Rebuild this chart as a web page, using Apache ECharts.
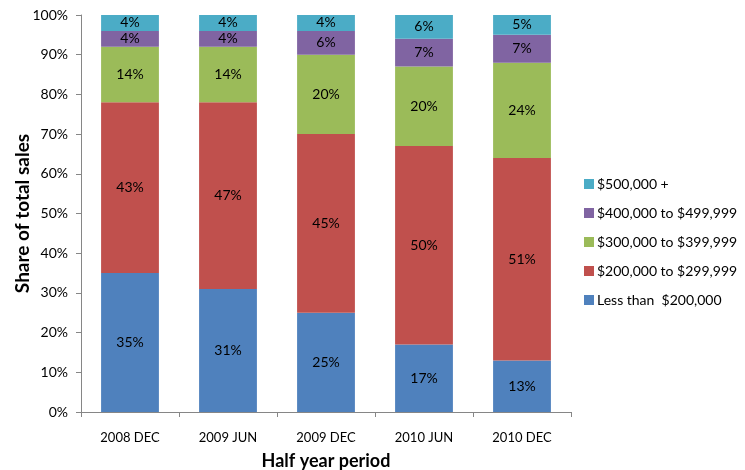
<!DOCTYPE html>
<html><head><meta charset="utf-8">
<script src="https://cdn.jsdelivr.net/npm/echarts@6/dist/echarts.min.js"></script>
<style>html,body{margin:0;padding:0;background:#fff}#c{width:745px;height:470px}</style>
</head><body><div id="c"></div>
<script>
const categories = ['2008 DEC','2009 JUN','2009 DEC','2010 JUN','2010 DEC'];
const lessThan200 = [35,31,25,17,13];
const from200to299 = [43,47,45,50,51];
const from300to399 = [14,14,20,20,24];
const from400to499 = [4,4,6,7,7];
const over500 = [4,4,4,6,5];
const seriesNames = ['Less than  $200,000','$200,000 to $299,999','$300,000 to $399,999','$400,000 to $499,999','$500,000 +'];
const yTicks = [0,10,20,30,40,50,60,70,80,90,100];

const colors = ['#4F81BD','#C0504D','#9BBB59','#8064A2','#4BACC6'];
const allData = [lessThan200, from200to299, from300to399, from400to499, over500];
const FONT = 'Lato';
const chart = echarts.init(document.getElementById('c'));
chart.setOption({
  animation:false,
  textStyle:{fontFamily:FONT},
  grid:{left:81,right:174,top:15,bottom:58,outerBoundsMode:'none',containLabel:false},
  legend:{
    orient:'vertical', left:579, top:172, itemGap:15,
    itemWidth:10, itemHeight:10, icon:'rect',
    data: seriesNames.slice().reverse(),
    textStyle:{fontFamily:FONT,fontSize:14,color:'#000',padding:[0,0,0,-2]}
  },
  xAxis:{
    type:'category', data:categories,
    name:'Half year period', nameLocation:'middle', nameGap:40, nameMoveOverlap:false,
    nameTextStyle:{fontFamily:FONT,fontSize:18,fontWeight:'bold',color:'#000'},
    axisLine:{lineStyle:{color:'#868686'}},
    axisTick:{show:true,length:5,lineStyle:{color:'#868686'}},
    axisLabel:{color:'#000',fontSize:13,margin:19,fontFamily:FONT}
  },
  yAxis:{
    type:'value', min:0, max:100, interval:10,
    name:'Share of total sales', nameLocation:'middle', nameGap:49, nameMoveOverlap:false,
    nameTextStyle:{fontFamily:FONT,fontSize:19,fontWeight:'bold',color:'#000'},
    axisLine:{show:true,lineStyle:{color:'#868686'}},
    axisTick:{show:true,length:5,lineStyle:{color:'#868686'}},
    splitLine:{show:false},
    axisLabel:{color:'#000',fontSize:14,margin:13,fontFamily:FONT,formatter:v=>v+'%'}
  },
  series: allData.map((d,i)=>({
    name: seriesNames[i], type:'bar', stack:'total', data:d,
    barWidth:'59%',
    itemStyle:{color:colors[i]},
    label:{show:true,position:'inside',formatter:p=>p.value+'%',color:'#000',fontSize:14,fontFamily:FONT}
  }))
});
</script></body></html>
